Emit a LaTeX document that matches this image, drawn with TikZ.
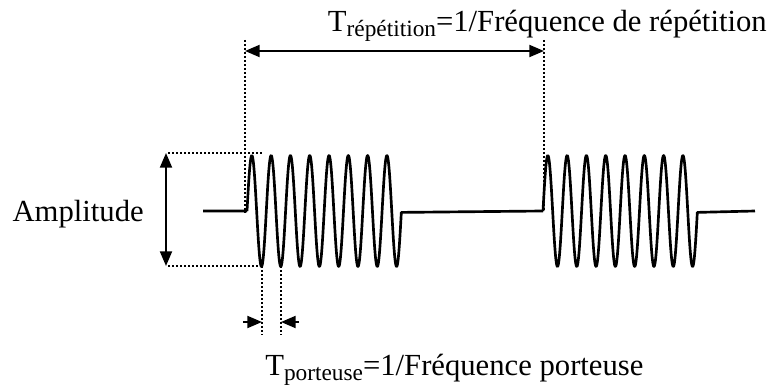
\documentclass[tikz,border=0pt]{standalone}
\usepackage{fontspec}
\setmainfont{Liberation Serif}
\usetikzlibrary{arrows.meta}
\newcommand{\subtxt}[1]{\raisebox{-3.75pt}{\fontsize{17.5}{20}\selectfont #1}}
\begin{document}
\begin{tikzpicture}[x=0.75pt, y=-0.75pt, font=\fontsize{23}{27}\selectfont,
  signal/.style={line width=2pt, line join=round},
  guide/.style={line width=0.9pt, dash pattern=on 1.2pt off 1.8pt},
  dimarrow/.style={line width=1.4pt, -{Triangle[length=11pt,width=9pt]}},
  dimboth/.style={line width=1.4pt, {Triangle[length=11pt,width=9pt]}-{Triangle[length=11pt,width=9pt]}}]
\useasboundingbox (0,0) rectangle (776,385);
\node[anchor=base east, inner sep=0] (reptxt) at (767,32) {T\subtxt{répétition}=1/Fréquence de répétition};
\node[anchor=base west, inner sep=0] (portxt) at (265,375) {T\subtxt{porteuse}=1/Fréquence porteuse};
\node[anchor=base east, inner sep=0] (amptxt) at (144,222) {Amplitude};
\coordinate (in1) at (247,211);
\coordinate (out1) at (401.4,211);
\coordinate (in2) at (543,211);
\coordinate (out2) at (697.4,211);
\draw[signal] (203,211) -- (in1) plot[domain=0:8, samples=480] ({247+19.3*\x}, {211-55.5*sin(360*\x)}) -- (in2)
  plot[domain=0:8, samples=480] ({543+19.3*\x}, {211-55.5*sin(360*\x)}) -- (755,211);
\coordinate (repl) at (245,51);
\coordinate (repr) at (544,51);
\draw[guide] (245,40) -- (245,213);
\draw[guide] (544,40) -- (544,211);
\draw[dimboth] (repl) -- (repr);
\coordinate (amptop) at (166,153);
\coordinate (ampbot) at (166,266);
\draw[guide] (168,153) -- (263,153);
\draw[guide] (168,266) -- (262,266);
\draw[dimboth] (amptop) -- (ampbot);
\coordinate (porl) at (262,322);
\coordinate (porr) at (281,322);
\draw[guide] (262,266) -- (262,335);
\draw[guide] (281,266) -- (281,335);
\draw[dimarrow] (243,322) -- (porl);
\draw[dimarrow] (299,322) -- (porr);
\end{tikzpicture}
\end{document}
